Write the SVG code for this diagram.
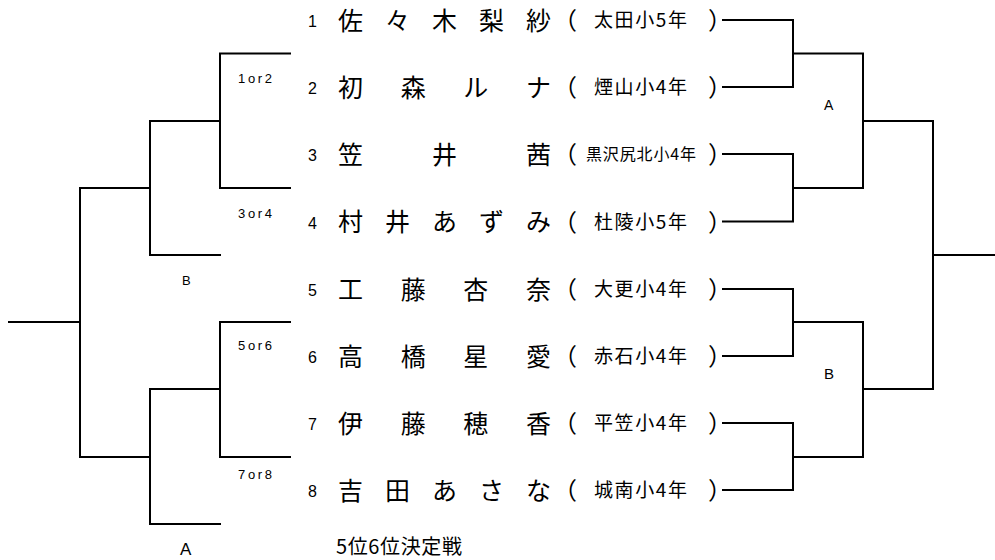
<svg xmlns="http://www.w3.org/2000/svg" width="995" height="560" viewBox="0 0 995 560">
<style>
.ln{stroke:#000;stroke-width:2;fill:none;stroke-linecap:square}
.num{font-family:"Liberation Sans",Arial,sans-serif;font-size:16px;fill:#000}
.nm{font-family:"Noto Sans CJK JP","Noto Sans CJK SC",sans-serif;font-size:25px;fill:#000}
.pr{font-family:"Noto Sans CJK JP","Noto Sans CJK SC",sans-serif;font-size:24px;fill:#000}
.sc{font-family:"Noto Sans CJK JP","Noto Sans CJK SC",sans-serif;font-size:19px;fill:#000}
.sc2{font-family:"Noto Sans CJK JP","Noto Sans CJK SC",sans-serif;font-size:16px;fill:#000}
.lb{font-family:"Liberation Sans",Arial,sans-serif;font-size:13px;fill:#000}
.big{font-family:"Liberation Sans",Arial,sans-serif;fill:#000}
.ttl{font-family:"Noto Sans CJK JP","Noto Sans CJK SC",sans-serif;font-size:20px;fill:#000}
</style>
<rect width="995" height="560" fill="#fff"/>
<g id="connectors">
<path class="ln" d="M290 53.5H220V188H290M220 121H150V255H220M150 188H80V457H150M80 322H9M290 322H220V457H290M220 389H150V524H220"/>
<path class="ln" d="M723 20H793V87H723M723 154H793V221.5H723M723 289H793V356H723M723 423H793V490H723"/>
<path class="ln" d="M793 53.5H863V188H793M793 322H863V457H793M863 121H933V389H863M933 255H995"/>
</g>
<g id="labels">
<text class="lb" x="238" y="83" textLength="34" lengthAdjust="spacing">1or2</text>
<text class="lb" x="238" y="218" textLength="34" lengthAdjust="spacing">3or4</text>
<text class="lb" x="182" y="285" font-size="12">B</text>
<text class="lb" x="238" y="350" textLength="34" lengthAdjust="spacing">5or6</text>
<text class="lb" x="238" y="479" textLength="34" lengthAdjust="spacing">7or8</text>
<text class="big" x="180" y="555" font-size="17">A</text>
<text class="big" x="824" y="110" font-size="14">A</text>
<text class="big" x="824" y="379" font-size="15">B</text>
<text class="ttl" x="336" y="554" textLength="126" lengthAdjust="spacing">5位6位決定戦</text>
</g>
<g id="p1">
<text class="num" x="308" y="27">1</text>
<text class="nm" x="338 385 432 479 526" y="29.5">佐々木梨紗</text>
<text class="pr" x="553" y="29">（</text>
<text class="sc" x="594" y="27" textLength="93" lengthAdjust="spacing">太田小5年</text>
<text class="pr" x="708" y="29">）</text>
</g>
<g id="p2">
<text class="num" x="308" y="94">2</text>
<text class="nm" x="338 400.7 463.3 526" y="96.5">初森ルナ</text>
<text class="pr" x="553" y="96">（</text>
<text class="sc" x="594" y="94" textLength="93" lengthAdjust="spacing">煙山小4年</text>
<text class="pr" x="708" y="96">）</text>
</g>
<g id="p3">
<text class="num" x="308" y="161">3</text>
<text class="nm" x="338 432 526" y="163.5">笠井茜</text>
<text class="pr" x="553" y="163">（</text>
<text class="sc2" x="586" y="160" textLength="110" lengthAdjust="spacing">黒沢尻北小4年</text>
<text class="pr" x="708" y="163">）</text>
</g>
<g id="p4">
<text class="num" x="308" y="228.5">4</text>
<text class="nm" x="338 385 432 479 526" y="231">村井あずみ</text>
<text class="pr" x="553" y="230.5">（</text>
<text class="sc" x="594" y="228.5" textLength="93" lengthAdjust="spacing">杜陵小5年</text>
<text class="pr" x="708" y="230.5">）</text>
</g>
<g id="p5">
<text class="num" x="308" y="296">5</text>
<text class="nm" x="338 400.7 463.3 526" y="298.5">工藤杏奈</text>
<text class="pr" x="553" y="298">（</text>
<text class="sc" x="594" y="296" textLength="93" lengthAdjust="spacing">大更小4年</text>
<text class="pr" x="708" y="298">）</text>
</g>
<g id="p6">
<text class="num" x="308" y="363">6</text>
<text class="nm" x="338 400.7 463.3 526" y="365.5">高橋星愛</text>
<text class="pr" x="553" y="365">（</text>
<text class="sc" x="594" y="363" textLength="93" lengthAdjust="spacing">赤石小4年</text>
<text class="pr" x="708" y="365">）</text>
</g>
<g id="p7">
<text class="num" x="308" y="430">7</text>
<text class="nm" x="338 400.7 463.3 526" y="432.5">伊藤穂香</text>
<text class="pr" x="553" y="432">（</text>
<text class="sc" x="594" y="430" textLength="93" lengthAdjust="spacing">平笠小4年</text>
<text class="pr" x="708" y="432">）</text>
</g>
<g id="p8">
<text class="num" x="308" y="497">8</text>
<text class="nm" x="338 385 432 479 526" y="499.5">吉田あさな</text>
<text class="pr" x="553" y="499">（</text>
<text class="sc" x="594" y="497" textLength="93" lengthAdjust="spacing">城南小4年</text>
<text class="pr" x="708" y="499">）</text>
</g>
</svg>
